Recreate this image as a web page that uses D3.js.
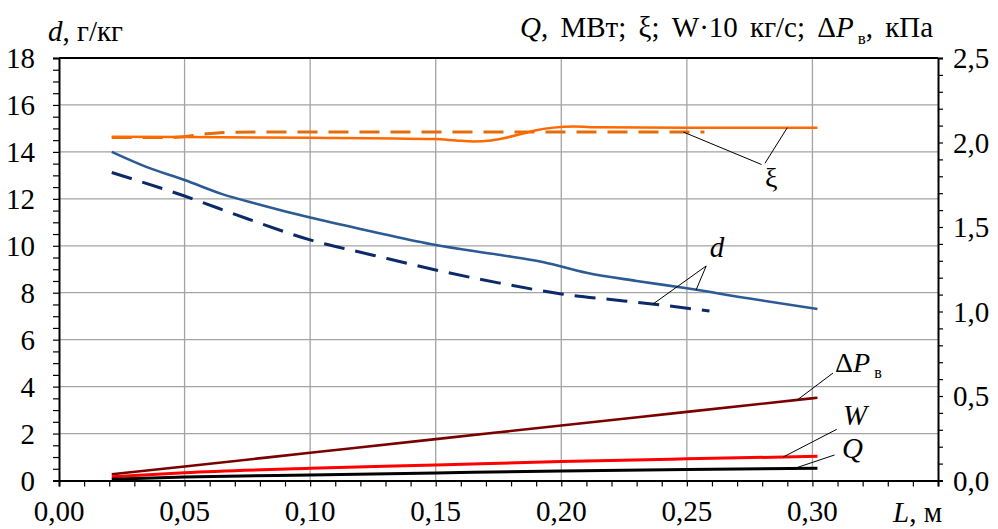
<!DOCTYPE html>
<html>
<head>
<meta charset="utf-8">
<script src="https://cdn.jsdelivr.net/npm/d3@7/dist/d3.min.js"></script>
<style>
  html, body { margin: 0; padding: 0; background: #fff; }
  svg { display: block; }
</style>
</head>
<body>
<svg id="chart" width="998" height="529"></svg>
<script>
// Length along the channel, m, and the measured / computed quantities.
const dSolidL  = [0.021, 0.035, 0.05, 0.065, 0.08, 0.10, 0.125, 0.15, 0.175, 0.193, 0.21, 0.23, 0.25, 0.275, 0.302];
const dSolid   = [14.0, 13.35, 12.8, 12.2, 11.75, 11.2, 10.6, 10.03, 9.62, 9.3, 8.85, 8.5, 8.19, 7.75, 7.31];

const dDashL   = [0.021, 0.05, 0.075, 0.10, 0.125, 0.15, 0.175, 0.20, 0.225, 0.237, 0.259];
const dDash    = [13.12, 12.12, 11.15, 10.25, 9.6, 8.97, 8.42, 7.95, 7.65, 7.51, 7.22];

const xiSolidL = [0.021, 0.05, 0.10, 0.15, 0.158, 0.165, 0.172, 0.178, 0.184, 0.19, 0.197, 0.205, 0.215, 0.25, 0.302];
const xiSolid  = [2.034, 2.032, 2.028, 2.02, 2.012, 2.006, 2.012, 2.028, 2.05, 2.072, 2.088, 2.094, 2.09, 2.088, 2.088];

const xiDashL  = [0.021, 0.045, 0.052, 0.058, 0.064, 0.08, 0.15, 0.20, 0.257];
const xiDash   = [2.03, 2.03, 2.038, 2.05, 2.058, 2.062, 2.062, 2.062, 2.062];

const lineL    = [0.021, 0.05, 0.10, 0.15, 0.20, 0.25, 0.302];
const dP       = [0.037, 0.083, 0.164, 0.245, 0.325, 0.406, 0.49];
const W        = [0.022, 0.046, 0.072, 0.092, 0.112, 0.128, 0.143];
const Q        = [0.008, 0.02, 0.033, 0.045, 0.056, 0.065, 0.072];

const xTicks      = [0, 0.05, 0.10, 0.15, 0.20, 0.25, 0.30];
const yLeftTicks  = [0, 2, 4, 6, 8, 10, 12, 14, 16, 18];
const yRightTicks = [0, 0.5, 1.0, 1.5, 2.0, 2.5];

const FONT = '"Liberation Serif", Tinos, "Times New Roman", Times, serif';
const FS = 29;
const svg = d3.select("#chart");
const plotL = 59, plotR = 938, plotT = 58, plotB = 480.5;

const x  = d3.scaleLinear().domain([0, 0.35]).range([plotL, plotR]);
const yL = d3.scaleLinear().domain([0, 18]).range([plotB, plotT]);
const yR = d3.scaleLinear().domain([0, 2.5]).range([plotB, plotT]);

const comma = f => v => d3.format(f)(v).replace(".", ",");

// grid
const grid = svg.append("g").attr("stroke", "#a3a3a3").attr("stroke-width", 1.3);
grid.selectAll("line.v").data(xTicks.filter(t => t > 0)).join("line").attr("class", "v")
  .attr("x1", d => x(d)).attr("x2", d => x(d)).attr("y1", plotT).attr("y2", plotB);
grid.selectAll("line.h").data(yLeftTicks.filter(t => t > 0 && t < 18)).join("line").attr("class", "h")
  .attr("x1", plotL).attr("x2", plotR).attr("y1", d => yL(d)).attr("y2", d => yL(d));

// axes (ticks only; labels are drawn separately with a comma decimal mark)
const axB = svg.append("g").attr("transform", `translate(0,${plotB})`)
  .call(d3.axisBottom(x).tickValues(d3.range(0, 36).map(i => i / 100)).tickSize(6).tickFormat(""));
const axL = svg.append("g").attr("transform", `translate(${plotL},0)`)
  .call(d3.axisLeft(yL).tickValues(d3.range(0, 37).map(i => i / 2)).tickSize(6).tickFormat(""));
const axR = svg.append("g").attr("transform", `translate(${plotR},0)`)
  .call(d3.axisRight(yR).tickValues(d3.range(0, 26).map(i => i / 10)).tickSize(5).tickFormat(""));
[axB, axL, axR].forEach(a => {
  a.selectAll(".domain").attr("stroke", "#000").attr("stroke-width", 2);
  a.selectAll(".tick line").attr("stroke", "#000").attr("stroke-width", 1.2);
});
svg.append("line").attr("x1", plotL).attr("x2", plotR).attr("y1", plotT).attr("y2", plotT)
  .attr("stroke", "#000").attr("stroke-width", 2);

const txt = svg.append("g").attr("font-family", FONT).attr("fill", "#000");

// tick labels
txt.append("g").selectAll("text").data(xTicks).join("text")
  .attr("x", d => x(d)).attr("y", 521).attr("text-anchor", "middle")
  .attr("font-size", FS).text(comma(".2f"));
txt.append("g").selectAll("text").data(yLeftTicks).join("text")
  .attr("x", 35).attr("y", d => yL(d) + 10).attr("text-anchor", "end")
  .attr("font-size", FS).text(d => d);
txt.append("g").selectAll("text").data(yRightTicks).join("text")
  .attr("x", 953).attr("y", d => yR(d) + 10).attr("text-anchor", "start")
  .attr("font-size", FS).text(comma(".1f"));

// series
const line = (Ls, scale) => d3.line().curve(d3.curveMonotoneX)
  .x((d, i) => x(Ls[i])).y(d => scale(d));

const series = [
  { L: xiDashL,  v: xiDash,  s: yR, color: "#e46c0a", w: 3,   dash: "20,11" },
  { L: xiSolidL, v: xiSolid, s: yR, color: "#ff6a00", w: 2.5, dash: null },
  { L: dSolidL,  v: dSolid,  s: yL, color: "#2c5a94", w: 2.6, dash: null },
  { L: dDashL,   v: dDash,   s: yL, color: "#0c2a68", w: 3,   dash: "21,11" },
  { L: lineL,    v: dP,      s: yR, color: "#7a0000", w: 2.6, dash: null },
  { L: lineL,    v: W,       s: yR, color: "#ff0000", w: 3,   dash: null },
  { L: lineL,    v: Q,       s: yR, color: "#000000", w: 3,   dash: null }
];
svg.append("g").selectAll("path").data(series).join("path")
  .attr("d", d => line(d.L, d.s)(d.v))
  .attr("fill", "none").attr("stroke", d => d.color).attr("stroke-width", d => d.w)
  .attr("stroke-dasharray", d => d.dash);

// value of a series at a given length, for the leader line ends
const at = (Ls, vs, L) => {
  const i = Math.max(1, d3.bisectLeft(Ls, L));
  const t = (L - Ls[i - 1]) / (Ls[i] - Ls[i - 1]);
  return vs[i - 1] + t * (vs[i] - vs[i - 1]);
};

// leader lines: [L0, v0, scale, L1, series L, series values]
const leaders = [
  [0.2797, 1.87,  yR, 0.2486, xiDashL, xiDash],
  [0.2811, 1.877, yR, 0.290,  xiSolidL, xiSolid],
  [0.2577, 9.14,  yL, 0.2365, dDashL, dDash],
  [0.2577, 9.14,  yL, 0.2537, dSolidL, dSolid],
  [0.3082, 0.636, yR, 0.294,  lineL, dP],
  [0.3097, 0.303, yR, 0.2884, lineL, W],
  [0.3088, 0.151, yR, 0.2927, lineL, Q]
];
svg.append("g").selectAll("line").data(leaders).join("line")
  .attr("x1", d => x(d[0])).attr("y1", d => d[2](d[1]))
  .attr("x2", d => x(d[3])).attr("y2", d => d[2](at(d[4], d[5], d[3])))
  .attr("stroke", "#000").attr("stroke-width", 1);

// curve labels
const lab = svg.append("g").attr("font-family", FONT).attr("fill", "#000");
lab.append("text").attr("x", x(0.2836)).attr("y", yR(1.737)).attr("text-anchor", "middle")
  .attr("font-size", 28).text("ξ");
lab.append("text").attr("x", x(0.262)).attr("y", yL(9.52)).attr("text-anchor", "middle")
  .attr("font-size", 29).attr("font-style", "italic").text("d");
const dpT = lab.append("text").attr("x", x(0.309)).attr("y", yR(0.644)).attr("font-size", 28);
dpT.append("tspan").text("Δ");
dpT.append("tspan").attr("font-style", "italic").text("P");
dpT.append("tspan").attr("font-size", 16).attr("dx", 4).attr("dy", 6).text("в");
lab.append("text").attr("x", x(0.3122)).attr("y", yR(0.328)).attr("font-size", 29)
  .attr("font-style", "italic").text("W");
lab.append("text").attr("x", x(0.3118)).attr("y", yR(0.133)).attr("font-size", 29)
  .attr("font-style", "italic").text("Q");

// axis titles
const tl = txt.append("text").attr("x", 48).attr("y", 41).attr("font-size", FS);
tl.append("tspan").attr("font-style", "italic").text("d");
tl.append("tspan").text(", г/кг");

const tr = txt.append("text").attr("x", 520).attr("y", 37).attr("font-size", FS)
  .attr("word-spacing", 5);
tr.append("tspan").attr("font-style", "italic").text("Q");
tr.append("tspan").text(", МВт; ξ; W·10 кг/с; Δ");
tr.append("tspan").attr("font-style", "italic").text("P");
tr.append("tspan").attr("font-size", 17).attr("dx", 4).attr("dy", 7).text("в");
tr.append("tspan").attr("dy", -7).text(", кПа");

const tx = txt.append("text").attr("x", 893).attr("y", 522).attr("font-size", FS);
tx.append("tspan").attr("font-style", "italic").text("L");
tx.append("tspan").text(", м");
</script>
</body>
</html>
